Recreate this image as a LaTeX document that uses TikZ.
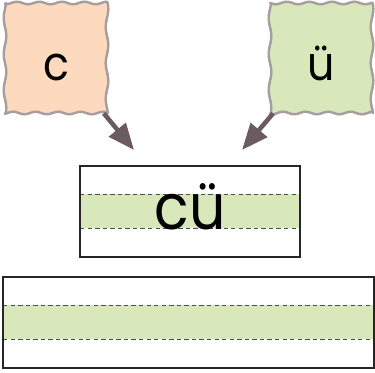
\documentclass[tikz,border=0pt]{standalone}
\usepackage{fontspec}
\setmainfont{Poppins}
\usetikzlibrary{arrows.meta, backgrounds}
\definecolor{peach}{HTML}{FDDABD}
\definecolor{leafgreen}{HTML}{D9E8BA}
\definecolor{cardgray}{HTML}{A89EA0}
\definecolor{arrowgray}{HTML}{6B5A60}
\newcommand{\narrow}[1]{\scalebox{0.9}[1]{#1}}

\begin{document}
\begin{tikzpicture}[
    x=0.02cm, y=-0.02cm,
    card/.style={minimum width=2.04cm, minimum height=2.2cm, inner sep=0pt,
                 text height=26pt, text depth=0pt,
                 font=\fontsize{27}{30}\selectfont},
    wavy/.style={draw=cardgray, line width=1.4pt, line join=round, samples=41},
    arr/.style={-{Triangle[length=15pt, width=12pt]}, line width=2.6pt, arrowgray},
    guide/.style={dash pattern=on 2.5pt off 1.8pt, black!70, line width=0.5pt},
    frame/.style={draw=black!85, line width=0.6pt}
  ]
  \useasboundingbox (0,0) rectangle (375,372);

  % Nodes
  \node[card] (c)  at (56,58)  {\narrow{c}};
  \node[card] (ue) at (321,58) {\narrow{ü}};
  \coordinate (cin)  at (134,150);
  \coordinate (uein) at (242,150);

  % Wavy cards
  \begin{scope}[on background layer]
    \foreach \cx/\col in {56/peach, 321/leafgreen} {
      \pgfmathsetmacro{\xl}{\cx-51}
      \pgfmathsetmacro{\xr}{\cx+51}
      \draw[wavy, fill=\col]
        plot[domain=\xl:\xr] (\x, {3+1.3*sin(16*\x)})
        -- plot[domain=3:113] ({\xr+1.3*sin(10*\x)}, \x)
        -- plot[domain=\xr:\xl] (\x, {113+1.3*sin(16*\x+60)})
        -- plot[domain=113:3] ({\xl+1.3*sin(10*\x+90)}, \x) -- cycle;
    }
  \end{scope}

  % Writing strips
  \foreach \l/\r/\t in {80/300/166, 3/374/277} {
    \fill[leafgreen] (\l,\t+28) rectangle (\r,\t+62);
    \draw[guide] (\l,\t+28) -- (\r,\t+28);
    \draw[guide] (\l,\t+62) -- (\r,\t+62);
    \draw[frame] (\l,\t) rectangle (\r,\t+91);
  }
  \node[anchor=base, font=\fontsize{36}{40}\selectfont] (word) at (190,229) {\narrow{cü}};

  % Arrows
  \draw[arr] ([xshift=-2pt]c.south east)  -- (cin);
  \draw[arr] ([xshift=2pt]ue.south west) -- (uein);
\end{tikzpicture}
\end{document}
